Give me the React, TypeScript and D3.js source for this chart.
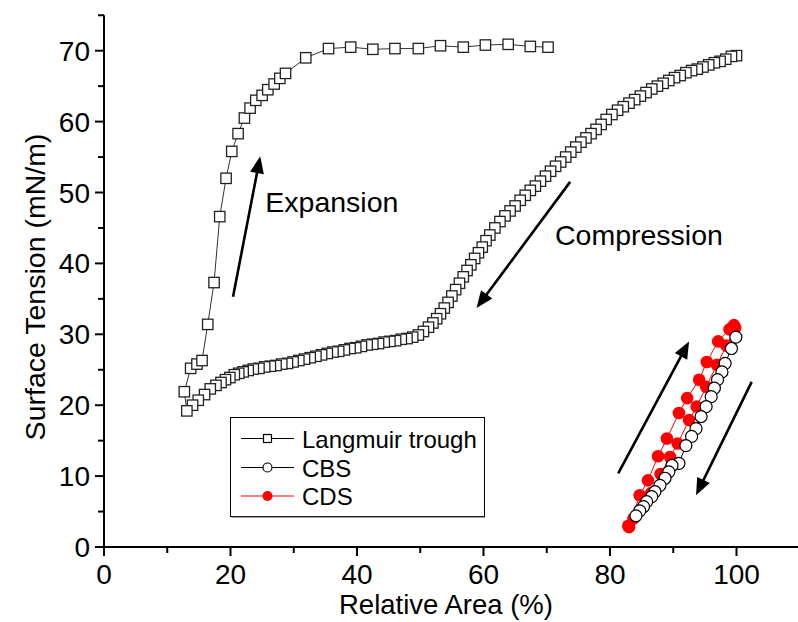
import React from 'react'
import * as d3 from 'd3'

// Langmuir trough: compression (100% -> 13%) then expansion back out
const ltArea = [
  100.0, 99.2, 98.3, 97.4, 96.5, 95.6, 94.7, 93.8, 92.9, 92.0, 91.1, 90.2, 89.3, 88.4, 87.5, 86.6, 85.7, 84.8, 83.9, 83.0,
  82.1, 81.2, 80.3, 79.4, 78.6, 77.8, 77.0, 76.2, 75.4, 74.6, 73.8, 73.0, 72.2, 71.4, 70.6, 69.8, 69.0, 68.2, 67.4, 66.6,
  65.8, 65.0, 64.2, 63.4, 62.6, 61.8, 61.0, 60.4, 59.8, 59.2, 58.6, 58.0, 57.4, 56.8, 56.2, 55.6, 55.0, 54.4, 53.8, 53.2,
  52.6, 52.0, 51.3, 50.5, 49.7, 48.8, 47.9, 47.0, 46.1, 45.2, 44.3, 43.4, 42.5, 41.6, 40.7, 39.8, 38.9, 38.0, 37.1, 36.2,
  35.3, 34.4, 33.5, 32.6, 31.7, 30.8, 29.9, 29.0, 28.1, 27.2, 26.3, 25.4, 24.5, 23.6, 22.8, 22.0, 21.3, 20.6, 19.9, 19.2,
  18.5, 17.7, 16.8, 15.9, 14.9, 14.0, 13.1,
  12.7, 13.7, 14.7, 15.5, 16.4, 17.4, 18.3, 19.3, 20.2, 21.2, 22.2, 23.1, 24.0, 25.0, 25.9, 26.9, 27.8, 28.7, 31.9, 35.5,
  39.0, 42.5, 46.0, 49.7, 53.2, 56.8, 60.3, 63.9, 67.4, 70.2
]
const ltTension = [
  69.3, 69.2, 68.8, 68.5, 68.3, 68.0, 67.7, 67.4, 67.2, 66.9, 66.5, 66.2, 65.8, 65.4, 65.0, 64.6, 64.1, 63.6, 63.1, 62.6,
  62.1, 61.6, 61.0, 60.3, 59.6, 58.9, 58.3, 57.7, 57.1, 56.4, 55.7, 55.0, 54.3, 53.7, 53.0, 52.3, 51.6, 50.9, 50.3, 49.6,
  48.9, 48.1, 47.4, 46.7, 45.9, 45.0, 44.0, 43.2, 42.3, 41.5, 40.7, 39.8, 39.0, 38.1, 37.2, 36.3, 35.4, 34.5, 33.7, 32.9,
  32.2, 31.6, 31.0, 30.4, 29.9, 29.6, 29.4, 29.3, 29.1, 29.0, 28.9, 28.7, 28.6, 28.5, 28.3, 28.1, 28.0, 27.8, 27.6, 27.5,
  27.3, 27.1, 26.9, 26.7, 26.5, 26.3, 26.1, 25.9, 25.8, 25.6, 25.5, 25.4, 25.2, 25.1, 24.9, 24.7, 24.5, 24.3, 23.9, 23.6,
  23.2, 22.8, 22.3, 21.5, 20.7, 20.0, 19.2,
  21.9, 25.2, 25.8, 26.3, 31.4, 37.3, 46.6, 52.0, 55.8, 58.3, 60.5, 61.9, 63.0, 63.7, 64.5, 65.3, 66.1, 66.8, 69.0, 70.3,
  70.5, 70.2, 70.3, 70.3, 70.7, 70.5, 70.8, 70.9, 70.6, 70.5
]

// captive bubble surfactometer
const cbsArea = [99.9, 99.2, 98.2, 97.7, 97.0, 96.5, 96.0, 95.2, 94.4, 93.6, 92.9, 92.0, 90.9, 89.8, 89.3, 88.7, 87.9, 87.1, 86.6, 85.8, 85.3, 84.7, 84.1]
const cbsTension = [29.6, 28.0, 25.9, 24.7, 23.6, 22.4, 21.2, 19.8, 18.4, 16.7, 15.6, 14.3, 11.8, 11.5, 10.6, 9.7, 8.7, 7.8, 7.1, 6.4, 5.7, 5.1, 4.4]

// constrained drop surfactometer
const cdsArea = [83.0, 84.7, 86.0, 87.6, 89.0, 90.9, 92.2, 94.1, 95.3, 97.1, 98.9, 99.6, 99.8, 98.4, 96.9, 95.2, 93.7, 92.5, 90.7, 89.5, 88.0, 86.5, 85.2, 83.7, 82.9]
const cdsTension = [2.8, 7.3, 9.4, 12.8, 15.3, 18.9, 21.0, 23.6, 26.1, 29.0, 30.7, 31.3, 30.9, 28.4, 25.7, 22.6, 19.8, 17.9, 14.6, 12.7, 10.3, 7.6, 5.6, 4.0, 3.0]

const xTicks = [0, 20, 40, 60, 80, 100]
const xMinor = [10, 30, 50, 70, 90, 110]
const yTicks = [0, 10, 20, 30, 40, 50, 60, 70]
const yMinor = [5, 15, 25, 35, 45, 55, 65, 75]

const legendNames = ['Langmuir trough', 'CBS', 'CDS']

// arrows: [x1, y1, x2, y2] in data units, head at (x2, y2)
const arrows = [
  [20.4, 35.3, 24.7, 55.1],
  [73.7, 51.5, 58.9, 33.7],
  [81.3, 10.4, 92.5, 29.0],
  [102.4, 23.3, 93.6, 7.3]
]
const notes = [
  {text: 'Expansion', x: 25.5, y: 47.3},
  {text: 'Compression', x: 71.3, y: 42.6}
]

const font = 'Liberation Sans, Arial, sans-serif'

export default function App() {
  const W = 798, H = 622
  const x = d3.scaleLinear().domain([0, 110]).range([104, 104 + 110 * 6.325])
  const y = d3.scaleLinear().domain([0, 75]).range([547, 547 - 75 * 7.09])

  const zip = (a: number[], b: number[]) => a.map((v, i) => [v, b[i]] as [number, number])
  const lt = zip(ltArea, ltTension)
  const cbs = zip(cbsArea, cbsTension)
  const cds = zip(cdsArea, cdsTension)

  const line = d3.line<[number, number]>()
    .x(d => x(d[0]))
    .y(d => y(d[1]))

  const arrowHead = (a: number[]) => {
    const x1 = x(a[0]), y1 = y(a[1]), x2 = x(a[2]), y2 = y(a[3])
    const ang = Math.atan2(y2 - y1, x2 - x1)
    const len = 17, half = 7
    const bx = x2 - len * Math.cos(ang), by = y2 - len * Math.sin(ang)
    const px = -Math.sin(ang) * half, py = Math.cos(ang) * half
    return {
      shaft: [x1, y1, bx + 3 * Math.cos(ang), by + 3 * Math.sin(ang)],
      pts: `${x2},${y2} ${bx + px},${by + py} ${bx - px},${by - py}`
    }
  }

  const lg = {x: 230.5, y: 417.5, w: 254, h: 99}
  const rowY = [438.5, 467.5, 496]

  return (
    <svg width={W} height={H} style={{position: 'absolute', left: 0, top: 0, background: '#fff'}} fontFamily={font}>
      <rect x={0} y={0} width={W} height={H} fill="#fff" />

      {/* series */}
      <path d={line(lt) || ''} fill="none" stroke="#333" strokeWidth={1} />
      {lt.map((d, i) => (
        <rect key={'lt' + i} x={x(d[0]) - 5.2} y={y(d[1]) - 5.2} width={10.4} height={10.4}
          fill="#fff" stroke="#222" strokeWidth={1.3} />
      ))}
      <path d={line(cds) || ''} fill="none" stroke="#ff0000" strokeWidth={1} />
      {cds.map((d, i) => (
        <circle key={'cds' + i} cx={x(d[0])} cy={y(d[1])} r={6.3} fill="#ff0000" />
      ))}
      <path d={line(cbs) || ''} fill="none" stroke="#000" strokeWidth={1} />
      {cbs.map((d, i) => (
        <circle key={'cbs' + i} cx={x(d[0])} cy={y(d[1])} r={6} fill="#fff" stroke="#000" strokeWidth={1.2} />
      ))}

      {/* arrows + notes */}
      {arrows.map((a, i) => {
        const h = arrowHead(a)
        return (
          <g key={'ar' + i}>
            <line x1={h.shaft[0]} y1={h.shaft[1]} x2={h.shaft[2]} y2={h.shaft[3]} stroke="#000" strokeWidth={2.6} />
            <polygon points={h.pts} fill="#000" />
          </g>
        )
      })}
      {notes.map(n => (
        <text key={n.text} x={x(n.x)} y={y(n.y)} fontSize={28.5} fill="#000">{n.text}</text>
      ))}

      {/* legend */}
      <rect x={lg.x} y={lg.y} width={lg.w} height={lg.h} fill="#fff" stroke="#000" strokeWidth={1} />
      <line x1={lg.x + 1} y1={lg.y + lg.h + 0.8} x2={lg.x + lg.w + 0.5} y2={lg.y + lg.h + 0.8} stroke="#888" strokeWidth={1} />
      {legendNames.map((name, i) => {
        const cy = rowY[i]
        const col = i === 2 ? '#ff0000' : '#000'
        return (
          <g key={name}>
            <line x1={241} y1={cy} x2={294} y2={cy} stroke={col} strokeWidth={1} />
            {i === 0 && <rect x={263.5} y={cy - 4} width={8} height={8} fill="#fff" stroke="#000" strokeWidth={1.2} />}
            {i === 1 && <circle cx={267.5} cy={cy} r={4.5} fill="#fff" stroke="#000" strokeWidth={1.2} />}
            {i === 2 && <circle cx={267.5} cy={cy} r={5} fill="#ff0000" />}
            <text x={302} y={cy + 9} fontSize={24} fill="#000">{name}</text>
          </g>
        )
      })}

      {/* axes */}
      <line x1={x(0)} y1={y(0)} x2={W} y2={y(0)} stroke="#000" strokeWidth={2} />
      <line x1={x(0)} y1={y(0) + 1} x2={x(0)} y2={y(75)} stroke="#000" strokeWidth={2} />
      {xTicks.map(t => (
        <g key={'xt' + t}>
          <line x1={x(t)} y1={y(0)} x2={x(t)} y2={y(0) + 9} stroke="#000" strokeWidth={2} />
          <text x={x(t)} y={584} fontSize={28} textAnchor="middle">{t}</text>
        </g>
      ))}
      {xMinor.map(t => (
        <line key={'xm' + t} x1={x(t)} y1={y(0)} x2={x(t)} y2={y(0) + 6} stroke="#000" strokeWidth={2} />
      ))}
      {yTicks.map(t => (
        <g key={'yt' + t}>
          <line x1={x(0)} y1={y(t)} x2={x(0) - 9} y2={y(t)} stroke="#000" strokeWidth={2} />
          <text x={90} y={y(t) + 10} fontSize={28} textAnchor="end">{t}</text>
        </g>
      ))}
      {yMinor.map(t => (
        <line key={'ym' + t} x1={x(0)} y1={y(t)} x2={x(0) - 6} y2={y(t)} stroke="#000" strokeWidth={2} />
      ))}

      <text x={446} y={614} fontSize={27.5} textAnchor="middle">Relative Area (%)</text>
      <text transform="translate(45,287) rotate(-90)" fontSize={28.5} textAnchor="middle">Surface Tension (mN/m)</text>
    </svg>
  )
}
